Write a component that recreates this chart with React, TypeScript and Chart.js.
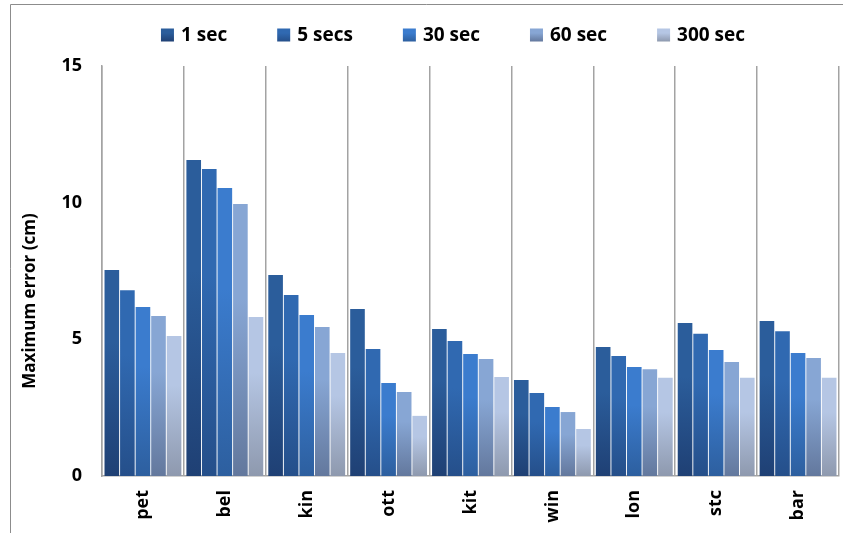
import React, { useEffect, useRef } from "react";
import { Chart, registerables } from "chart.js";

Chart.register(...registerables);

// Sites on the x axis
const categories = ["pet", "bel", "kin", "ott", "kit", "win", "lon", "stc", "bar"];

// Maximum error (cm) per averaging window
const seriesLabels = ["1 sec", "5 secs", "30 sec", "60 sec", "300 sec"];
const sec1 = [7.54, 11.56, 7.35, 6.11, 5.38, 3.51, 4.72, 5.6, 5.67];
const sec5 = [6.8, 11.23, 6.62, 4.65, 4.94, 3.04, 4.39, 5.2, 5.3];
const sec30 = [6.18, 10.54, 5.89, 3.4, 4.46, 2.52, 3.99, 4.61, 4.5];
const sec60 = [5.85, 9.95, 5.45, 3.07, 4.28, 2.34, 3.91, 4.17, 4.32];
const sec300 = [5.12, 5.82, 4.5, 2.2, 3.62, 1.72, 3.59, 3.59, 3.59];

const yTicks = [0, 5, 10, 15];
const yTitle = "Maximum error (cm)";

// top / bottom colours of each series' gradient
const topColors = ["#2b5d9b", "#3069b1", "#3b7cce", "#87a6d4", "#b5c6e4"];
const bottomColors = ["#1f4074", "#254f8a", "#2d5f9f", "#63789d", "#8e99ae"];

const FONT = "'Open Sans', 'DejaVu Sans', sans-serif";

function makeGradient(ctx: CanvasRenderingContext2D, y0: number, y1: number, i: number) {
  const g = ctx.createLinearGradient(0, y0, 0, y1);
  g.addColorStop(0, topColors[i]);
  g.addColorStop(0.35, topColors[i]);
  g.addColorStop(1, bottomColors[i]);
  return g;
}

const framePlugin = {
  id: "frame",
  beforeDraw(chart: any) {
    const ctx = chart.ctx as CanvasRenderingContext2D;
    ctx.save();
    ctx.strokeStyle = "#8c8c8c";
    ctx.lineWidth = 1;
    ctx.beginPath();
    ctx.moveTo(10.5, chart.height);
    ctx.lineTo(10.5, 4.5);
    ctx.lineTo(chart.width, 4.5);
    ctx.stroke();
    ctx.restore();
  },
};

const legendPlugin = {
  id: "topLegend",
  afterDraw(chart: any) {
    const ctx = chart.ctx as CanvasRenderingContext2D;
    ctx.save();
    ctx.font = `bold 19px ${FONT}`;
    const box = 13;
    const gapText = 7;
    const gapItem = 50;
    const widths = chart.data.datasets.map((d: any) => ctx.measureText(d.label).width);
    const total =
      widths.reduce((a: number, w: number) => a + box + gapText + w, 0) + gapItem * (widths.length - 1);
    let x = 453 - total / 2;
    const cy = 35;
    chart.data.datasets.forEach((d: any, i: number) => {
      ctx.fillStyle = makeGradient(ctx, cy - box / 2, cy + box / 2, i);
      ctx.fillRect(x, cy - box / 2, box, box);
      ctx.fillStyle = "#000";
      ctx.textBaseline = "middle";
      ctx.textAlign = "left";
      ctx.fillText(d.label, x + box + gapText, cy + 1);
      x += box + gapText + widths[i] + gapItem;
    });
    ctx.restore();
  },
};

const yTitlePlugin = {
  id: "yTitle",
  afterDraw(chart: any) {
    const ctx = chart.ctx as CanvasRenderingContext2D;
    ctx.save();
    ctx.font = `bold 17px ${FONT}`;
    ctx.fillStyle = "#000";
    ctx.textAlign = "center";
    ctx.textBaseline = "middle";
    ctx.translate(30, 301);
    ctx.rotate(-Math.PI / 2);
    ctx.fillText(yTitle, 0, 0);
    ctx.restore();
  },
};

export default function App() {
  const ref = useRef<HTMLCanvasElement>(null);

  useEffect(() => {
    if (!ref.current) return;
    const values = [sec1, sec5, sec30, sec60, sec300];
    const chart = new Chart(ref.current, {
      type: "bar",
      data: {
        labels: categories,
        datasets: values.map((v, i) => ({
          label: seriesLabels[i],
          data: v,
          borderWidth: 0,
          categoryPercentage: 0.95,
          barPercentage: 0.94,
          backgroundColor: (c: any) => {
            const ch = c.chart;
            if (!ch.chartArea || c.raw === undefined) return topColors[i];
            const y = ch.scales.y;
            return makeGradient(ch.ctx, y.getPixelForValue(c.raw), y.getPixelForValue(0), i);
          },
        })),
      },
      options: {
        responsive: false,
        animation: false,
        layout: { padding: { top: 66, right: 4, left: 0, bottom: 0 } },
        plugins: {
          legend: { display: false },
          tooltip: { enabled: false },
        },
        scales: {
          x: {
            grid: {
              offset: true,
              display: true,
              drawTicks: false,
              color: "#a3a3a3",
              lineWidth: 1.5,
            },
            border: { display: true, color: "#a3a3a3", width: 1.5 },
            ticks: {
              minRotation: 90,
              maxRotation: 90,
              padding: 14,
              color: "#000",
              font: { family: FONT, size: 18, weight: "bold" },
            },
            afterFit: (s: any) => {
              s.height = 57;
            },
          },
          y: {
            min: 0,
            max: 15,
            afterBuildTicks: (s: any) => {
              s.ticks = yTicks.map((value) => ({ value }));
            },
            grid: { display: false, drawTicks: false },
            border: { display: true, color: "#a3a3a3", width: 1.5 },
            ticks: {
              padding: 20,
              color: "#000",
              font: { family: FONT, size: 18, weight: "bold" },
            },
            afterFit: (s: any) => {
              s.width = 102;
            },
          },
        },
      },
      plugins: [framePlugin, legendPlugin, yTitlePlugin],
    });
    return () => chart.destroy();
  }, []);

  return (
    <div style={{ position: "absolute", left: 0, top: 0, width: 843, height: 533, background: "#fff" }}>
      <canvas ref={ref} width={843} height={533} style={{ display: "block" }} />
    </div>
  );
}
